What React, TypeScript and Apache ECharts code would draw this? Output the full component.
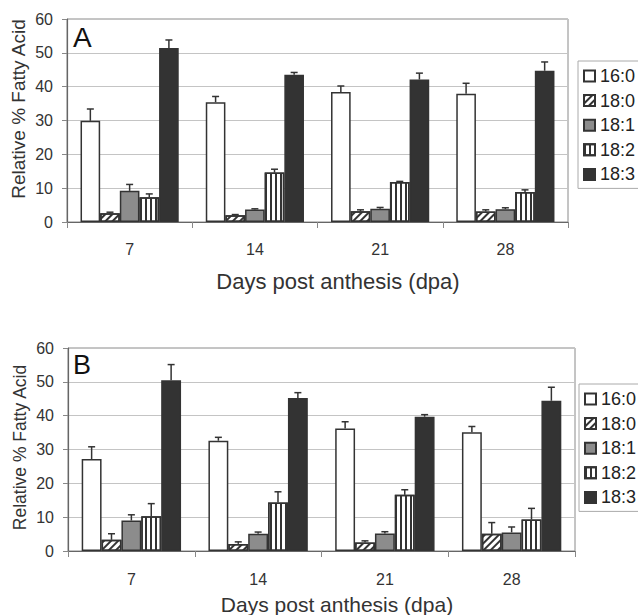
import React, { useEffect, useRef } from "react";
import * as echarts from "echarts";

const categories = ["7", "14", "21", "28"];
const acids = ["16:0", "18:0", "18:1", "18:2", "18:3"];

// Panel A means and (upper) standard errors, one array per fatty acid
const a160 = [29.9, 35.4, 38.4, 37.9];
const a160Err = [3.5, 1.7, 1.8, 3.1];
const a180 = [2.6, 2.0, 3.2, 3.1];
const a180Err = [0.3, 0.2, 0.4, 0.5];
const a181 = [9.2, 3.7, 3.9, 3.8];
const a181Err = [1.9, 0.2, 0.4, 0.4];
const a182 = [7.3, 14.6, 11.8, 8.9];
const a182Err = [1.0, 1.0, 0.2, 0.6];
const a183 = [51.4, 43.5, 42.1, 44.7];
const a183Err = [2.4, 0.7, 1.9, 2.6];

// Panel B
const b160 = [27.2, 32.6, 36.2, 35.1];
const b160Err = [3.6, 1.0, 2.0, 1.7];
const b180 = [3.3, 2.1, 2.5, 5.1];
const b180Err = [1.8, 0.6, 0.5, 3.3];
const b181 = [9.0, 5.1, 5.2, 5.5];
const b181Err = [1.7, 0.5, 0.5, 1.6];
const b182 = [10.3, 14.3, 16.6, 9.3];
const b182Err = [3.7, 3.2, 1.5, 3.3];
const b183 = [50.5, 45.2, 39.7, 44.4];
const b183Err = [4.6, 1.6, 0.6, 4.0];

const yTicks = [0, 10, 20, 30, 40, 50, 60];

const panelA = [a160, a180, a181, a182, a183];
const panelAErr = [a160Err, a180Err, a181Err, a182Err, a183Err];
const panelB = [b160, b180, b181, b182, b183];
const panelBErr = [b160Err, b180Err, b181Err, b182Err, b183Err];

const FONT = "Liberation Sans, Arial, sans-serif";
const DARK = "#333333";
const GAP = 0.216;

const styleFor = (i: number): any => {
  const base: any = { borderColor: DARK, borderWidth: 1.5 };
  if (i === 0) return { ...base, color: "#ffffff" };
  if (i === 1)
    return {
      ...base,
      color: "#ffffff",
      decal: {
        symbol: "rect",
        symbolSize: 1,
        symbolKeepAspect: false,
        color: DARK,
        dashArrayX: [2, 3],
        dashArrayY: [4, 0],
        rotation: Math.PI / 4,
      },
    };
  if (i === 2) return { ...base, color: "#8c8c8c" };
  if (i === 3)
    return {
      ...base,
      color: "#ffffff",
      decal: {
        symbol: "rect",
        symbolSize: 1,
        symbolKeepAspect: false,
        color: DARK,
        dashArrayX: [2, 3],
        dashArrayY: [4, 0],
        rotation: 0,
      },
    };
  return { ...base, color: "#333333" };
};

export default function App() {
  const ref = useRef<HTMLDivElement>(null);
  useEffect(() => {
    document.body.style.margin = "0";
    const chart = echarts.init(ref.current!, null, { renderer: "svg" });

    const grids = [
      { left: 67, top: 19, width: 501, height: 203, show: true, borderColor: "#8a8a8a", borderWidth: 1 },
      { left: 68, top: 348, width: 507, height: 203, show: true, borderColor: "#8a8a8a", borderWidth: 1 },
    ];

    const xAxes = [0, 1].map((g) => ({
      type: "category",
      gridIndex: g,
      data: categories,
      axisLine: { lineStyle: { color: "#666", width: 1.2 } },
      axisTick: { show: true, length: 6, lineStyle: { color: "#888" } },
      axisLabel: { fontSize: 16, color: DARK, fontFamily: FONT, margin: g === 0 ? 19 : 20 },
    }));

    const yAxes = [0, 1].map((g) => ({
      type: "value",
      gridIndex: g,
      min: yTicks[0],
      max: yTicks[yTicks.length - 1],
      interval: 10,
      axisLine: { show: true, lineStyle: { color: "#666", width: 1.2 } },
      axisTick: { show: true, length: 5, lineStyle: { color: "#888" } },
      axisLabel: { fontSize: 16, color: DARK, fontFamily: FONT, margin: 14 },
      splitLine: { show: true, lineStyle: { color: "#c4c4c4", width: 1 } },
    }));

    const series: any[] = [];
    [panelA, panelB].forEach((panel, p) => {
      panel.forEach((vals, i) => {
        series.push({
          type: "bar",
          name: acids[i],
          xAxisIndex: p,
          yAxisIndex: p,
          data: vals,
          barGap: "0%",
          barCategoryGap: GAP * 100 + "%",
          itemStyle: styleFor(i),
          emphasis: { disabled: true },
        });
      });
    });

    [panelA, panelB].forEach((panel, p) => {
      const errs = p === 0 ? panelAErr : panelBErr;
      const data: number[][] = [];
      panel.forEach((vals, i) => {
        vals.forEach((v, c) => data.push([c, v, errs[i][c], i]));
      });
      series.push({
        type: "custom",
        name: "err" + p,
        xAxisIndex: p,
        yAxisIndex: p,
        z: 5,
        encode: { x: 0, y: 1 },
        data,
        renderItem: (params: any, api: any) => {
          const c = api.value(0);
          const v = api.value(1);
          const e = api.value(2);
          const s = api.value(3);
          const base = api.coord([c, v]);
          const top = api.coord([c, v + e]);
          const band = api.size([1, 0])[0];
          const bw = (band * (1 - GAP)) / 5;
          const x = base[0] + (s - 2) * bw;
          const st = { stroke: DARK, lineWidth: 1.5 };
          return {
            type: "group",
            children: [
              { type: "line", shape: { x1: x, y1: base[1], x2: x, y2: top[1] }, style: st },
              { type: "line", shape: { x1: x - 3.5, y1: top[1], x2: x + 3.5, y2: top[1] }, style: st },
            ],
          };
        },
      });
    });

    const legendBase = {
      orient: "vertical",
      data: acids,
      icon: "rect",
      itemWidth: 11,
      itemHeight: 11,
      itemGap: 6.6,
      padding: [6, 40, 5, 5],
      borderColor: "#aaaaaa",
      borderWidth: 1,
      textStyle: { fontSize: 18, color: "#222", fontFamily: FONT },
      selectedMode: false,
    };

    chart.setOption({
      animation: false,
      backgroundColor: "#ffffff",
      grid: grids,
      xAxis: xAxes,
      yAxis: yAxes,
      legend: [
        { ...legendBase, left: 578, top: 61 },
        { ...legendBase, left: 579, top: 384 },
      ],
      series,
      graphic: [
        { type: "text", x: 73, y: 37.5, style: { text: "A", fontSize: 28, fontFamily: FONT, fill: "#111", verticalAlign: "middle" } },
        { type: "text", x: 73, y: 364.5, style: { text: "B", fontSize: 27, fontFamily: FONT, fill: "#111", verticalAlign: "middle" } },
        { type: "text", x: 18, y: 109, rotation: Math.PI / 2, style: { text: "Relative % Fatty Acid", fontSize: 19, fontFamily: FONT, fill: DARK, align: "center", verticalAlign: "middle" } },
        { type: "text", x: 20, y: 447.5, rotation: Math.PI / 2, style: { text: "Relative % Fatty Acid", fontSize: 17.5, fontFamily: FONT, fill: DARK, align: "center", verticalAlign: "middle" } },
        { type: "text", x: 338, y: 281, style: { text: "Days post anthesis (dpa)", fontSize: 22, fontFamily: FONT, fill: DARK, align: "center", verticalAlign: "middle" } },
        { type: "text", x: 337, y: 604, style: { text: "Days post anthesis (dpa)", fontSize: 21, fontFamily: FONT, fill: DARK, align: "center", verticalAlign: "middle" } },
      ],
    });
    return () => chart.dispose();
  }, []);
  return <div ref={ref} style={{ width: 638, height: 615 }} />;
}
